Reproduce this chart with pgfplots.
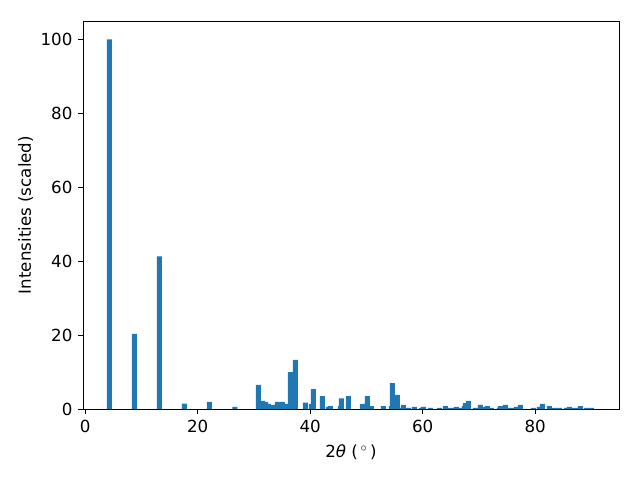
\documentclass[border=0pt]{standalone}
\usepackage{fontspec}
\setmainfont{DejaVu Sans}
\usepackage{pgfplots}
\pgfplotsset{compat=1.18}
\definecolor{tabblue}{HTML}{1F77B4}
\begin{document}
\fontsize{12.5}{15}\selectfont
\begin{tikzpicture}
\begin{axis}[
  at={(0pt,0pt)}, anchor=south west,
  scale only axis, width=402pt, height=291pt,
  xmin=-0.4, xmax=94.9, ymin=0, ymax=105,
  xtick={0,20,40,60,80}, ytick={0,20,40,60,80,100},
  tick pos=left, tick align=outside,
  major tick length=3.6pt,
  axis line style={line width=0.6pt},
  every tick/.style={black, line width=0.6pt},
  /pgf/number format/assume math mode=true,
  ticklabel style={font=\fontsize{12.5}{15}\selectfont},
  xticklabel style={yshift=-0.5pt},
  label style={font=\fontsize{12.5}{15}\selectfont},
  xlabel={2{\itshape θ} (\,$^{\circ}$\,)},
  ylabel={Intensities (scaled)},
  ylabel style={yshift=-3pt},
]
\addplot[ybar, bar width=0.89, bar shift=0pt, fill=tabblue, draw=none] coordinates {
(4.30,100) (8.75,20.3) (13.19,41.3) (17.64,1.45) (22.08,1.9) (26.6,0.55)
(30.79,6.5) (31.50,2.2) (32.09,1.9) (32.57,1.4) (33.28,1.1) (34.17,1.9)
(35.06,1.9) (35.95,1.4) (36.48,10.0) (37.37,13.3) (39.15,1.7) (40.21,1.4)
(40.57,5.4) (42.17,3.5) (43.24,0.6) (43.59,0.8) (45.37,0.8) (45.55,2.9)
(46.79,3.5) (49.28,1.4) (50.17,3.5) (50.88,0.8) (53.01,0.8) (54.44,0.8)
(54.61,7.0) (55.50,3.8) (55.86,0.3) (56.57,1.1) (57.46,0.3) (58.52,0.55)
(59.77,0.3) (60.12,0.55) (61.37,0.3) (62.97,0.3) (64.04,0.8) (64.95,0.3)
(65.10,0.3) (66.0,0.55) (66.7,0.3) (67.41,0.8) (67.59,1.6) (68.12,2.2)
(69.37,0.3) (70.26,1.1) (71.15,0.55) (71.50,0.8) (72.21,0.3) (73.64,0.3)
(73.81,0.8) (74.70,1.1) (75.59,0.3) (75.77,0.3) (76.66,0.55) (77.37,1.1)
(79.68,0.3) (80.75,0.55) (81.28,1.4) (82.52,0.8) (83.41,0.3) (84.30,0.3)
(85.55,0.3) (86.08,0.55) (86.97,0.3) (87.86,0.3) (88.04,0.8) (89.10,0.3)
(89.99,0.3)
};
\end{axis}
\path[use as bounding box] (-62.25pt,-53.25pt) rectangle (417.75pt,306.75pt);
\end{tikzpicture}
\end{document}
